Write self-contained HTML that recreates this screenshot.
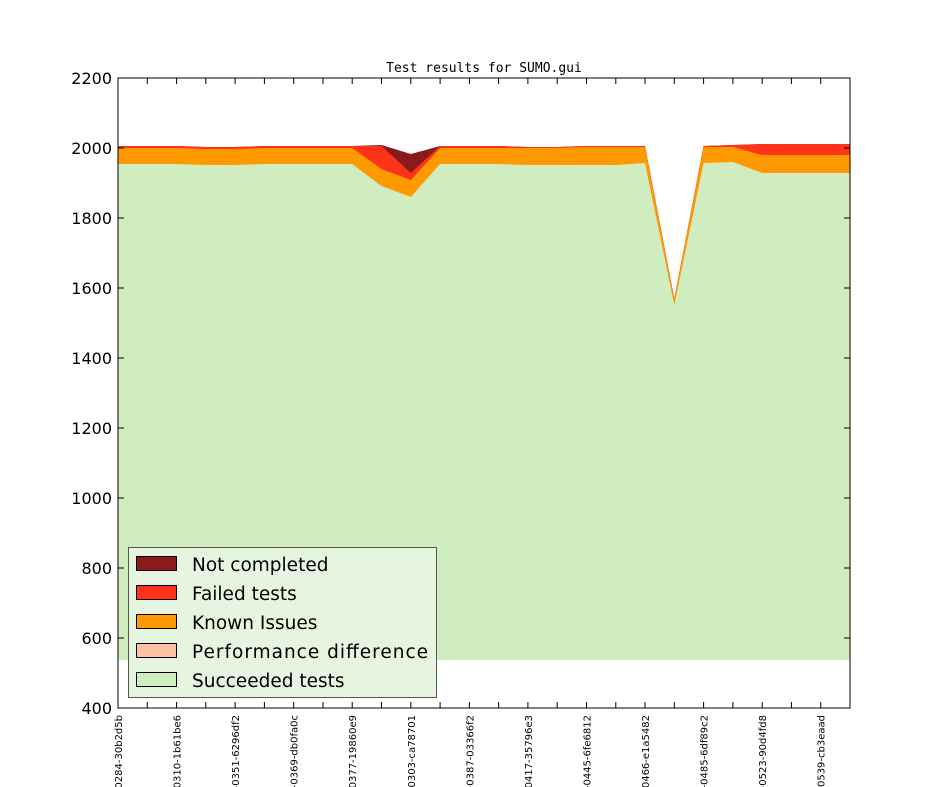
<!DOCTYPE html>
<html><head><meta charset="utf-8"><style>body{margin:0;background:#fff}svg{display:block}</style></head><body>
<svg width="944" height="787" xmlns="http://www.w3.org/2000/svg" font-family="DejaVu Sans, Liberation Sans, sans-serif">
<rect width="944" height="787" fill="#fff"/>
<text x="484" y="72" font-family="DejaVu Sans Mono, Liberation Mono, monospace" font-size="13" text-anchor="middle">Test results for SUMO.gui</text>
<polygon fill="#8b1a1a" points="118,146 147.3,146 176.6,146 205.8,147 235.1,147 264.4,146 293.7,146 323,146 352.2,146 381.5,145 410.8,154 440.1,146 469.4,146 498.6,146 527.9,147 557.2,147 586.5,146 615.8,146 645,146 674.3,299 703.6,146 732.9,145 762.2,144 791.4,144 820.7,144 850,144 850,660 118,660"/>
<polygon fill="#ff3319" points="118,146 147.3,146 176.6,146 205.8,147 235.1,147 264.4,146 293.7,146 323,146 352.2,146 381.5,146 410.8,173 440.1,146 469.4,146 498.6,146 527.9,147 557.2,147 586.5,146 615.8,146 645,146 674.3,299 703.6,146 732.9,145 762.2,144 791.4,144 820.7,144 850,144 850,660 118,660"/>
<polygon fill="#ff9900" points="118,148 147.3,148 176.6,148 205.8,149 235.1,149 264.4,148 293.7,148 323,148 352.2,148 381.5,169 410.8,180 440.1,148 469.4,148 498.6,148 527.9,148 557.2,148 586.5,147 615.8,147 645,147 674.3,300 703.6,147 732.9,147 762.2,155 791.4,155 820.7,155 850,155 850,660 118,660"/>
<polygon fill="#cfedbf" points="118,164 147.3,164 176.6,164 205.8,165 235.1,165 264.4,164 293.7,164 323,164 352.2,164 381.5,186 410.8,197 440.1,164 469.4,164 498.6,164 527.9,165 557.2,165 586.5,165 615.8,165 645,163 674.3,305 703.6,163 732.9,162 762.2,173 791.4,173 820.7,173 850,173 850,660 118,660"/>
<rect x="118" y="78" width="732" height="630" fill="none" stroke="#000" stroke-width="1"/>
<g stroke="#000" stroke-width="1">
<line x1="118" y1="78" x2="124" y2="78"/><line x1="850" y1="78" x2="844" y2="78"/>
<line x1="118" y1="148" x2="124" y2="148"/><line x1="850" y1="148" x2="844" y2="148"/>
<line x1="118" y1="218" x2="124" y2="218"/><line x1="850" y1="218" x2="844" y2="218"/>
<line x1="118" y1="288" x2="124" y2="288"/><line x1="850" y1="288" x2="844" y2="288"/>
<line x1="118" y1="358" x2="124" y2="358"/><line x1="850" y1="358" x2="844" y2="358"/>
<line x1="118" y1="428" x2="124" y2="428"/><line x1="850" y1="428" x2="844" y2="428"/>
<line x1="118" y1="498" x2="124" y2="498"/><line x1="850" y1="498" x2="844" y2="498"/>
<line x1="118" y1="568" x2="124" y2="568"/><line x1="850" y1="568" x2="844" y2="568"/>
<line x1="118" y1="638" x2="124" y2="638"/><line x1="850" y1="638" x2="844" y2="638"/>
</g>
<g font-size="16" text-anchor="end">
<text x="112" y="84">2200</text><text x="112" y="154">2000</text><text x="112" y="224">1800</text><text x="112" y="294">1600</text><text x="112" y="364">1400</text><text x="112" y="434">1200</text><text x="112" y="504">1000</text><text x="112" y="574">800</text><text x="112" y="644">600</text><text x="112" y="714">400</text>
</g>
<g stroke="#000" stroke-width="1">
<path d="M147.3,708v-6M176.6,708v-6M205.8,708v-6M235.1,708v-6M264.4,708v-6M293.7,708v-6M323,708v-6M352.2,708v-6M381.5,708v-6M410.8,708v-6M440.1,708v-6M469.4,708v-6M498.6,708v-6M527.9,708v-6M557.2,708v-6M586.5,708v-6M615.8,708v-6M645,708v-6M674.3,708v-6M703.6,708v-6M732.9,708v-6M762.2,708v-6M791.4,708v-6M820.7,708v-6M147.3,78v6M176.6,78v6M205.8,78v6M235.1,78v6M264.4,78v6M293.7,78v6M323,78v6M352.2,78v6M381.5,78v6M410.8,78v6M440.1,78v6M469.4,78v6M498.6,78v6M527.9,78v6M557.2,78v6M586.5,78v6M615.8,78v6M645,78v6M674.3,78v6M703.6,78v6M732.9,78v6M762.2,78v6M791.4,78v6M820.7,78v6"/>
</g>
<g font-size="10" text-anchor="end">
<text transform="translate(122,715) rotate(-90)">0284-30b2d5b</text>
<text transform="translate(180.6,715) rotate(-90)">0310-1b61be6</text>
<text transform="translate(239.1,715) rotate(-90)">-0351-6296df2</text>
<text transform="translate(297.7,715) rotate(-90)">-0369-db0fa0c</text>
<text transform="translate(356.2,715) rotate(-90)">0377-19860e9</text>
<text transform="translate(414.8,715) rotate(-90)">0303-ca78701</text>
<text transform="translate(473.4,715) rotate(-90)">-0387-03366f2</text>
<text transform="translate(531.9,715) rotate(-90)">0417-35796e3</text>
<text transform="translate(590.5,715) rotate(-90)">-0445-6fe6812</text>
<text transform="translate(649,715) rotate(-90)">-0466-e1a5482</text>
<text transform="translate(707.6,715) rotate(-90)">-0485-6df89c2</text>
<text transform="translate(766.2,715) rotate(-90)">-0523-90d4fd8</text>
<text transform="translate(824.7,715) rotate(-90)">0539-cb3eaad</text>
</g>
<rect x="128.5" y="547.5" width="308" height="150" fill="#e6f5df" stroke="#555" stroke-width="1"/>
<g stroke="#000" stroke-width="1">
<rect x="136.5" y="556.5" width="40" height="14" fill="#8b1a1a"/>
<rect x="136.5" y="585.5" width="40" height="14" fill="#ff3319"/>
<rect x="136.5" y="614.5" width="40" height="14" fill="#ff9900"/>
<rect x="136.5" y="643.5" width="40" height="14" fill="#ffc2a0"/>
<rect x="136.5" y="672.5" width="40" height="14" fill="#cfedbf"/>
</g>
<g font-size="18.5">
<text x="192" y="571">Not completed</text>
<text x="192" y="600">Failed tests</text>
<text x="192" y="629">Known Issues</text>
<text x="192" y="658" textLength="236">Performance difference</text>
<text x="192" y="687">Succeeded tests</text>
</g>
</svg>
</body></html>
